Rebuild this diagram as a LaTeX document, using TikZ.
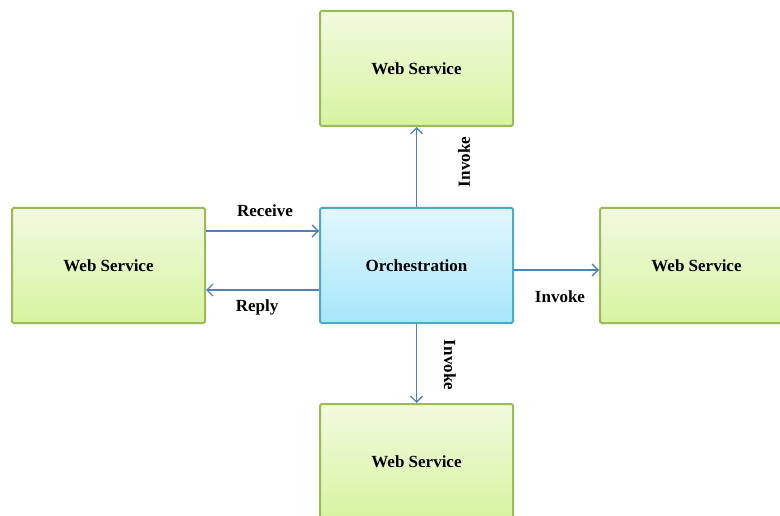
\documentclass[tikz,border=0pt]{standalone}
\usepackage{fontspec}
\setmainfont{Liberation Serif}
\usetikzlibrary{arrows.meta}
\definecolor{gborder}{HTML}{9BBB59}
\definecolor{gtop}{HTML}{F2FADF}
\definecolor{gbot}{HTML}{D6F4A0}
\definecolor{bborder}{HTML}{4BACC6}
\definecolor{btop}{HTML}{E3F7FD}
\definecolor{bbot}{HTML}{A6E6FA}
\definecolor{arr}{HTML}{4F81BD}
\tikzset{
  ws/.style={draw=gborder, line width=2pt, rounded corners=1.5pt, top color=gtop, bottom color=gbot,
    minimum width=193pt, minimum height=115pt, inner sep=0pt,
    font=\fontsize{17}{20}\selectfont\bfseries},
  orch/.style={draw=bborder, line width=2pt, rounded corners=1.5pt, top color=btop, bottom color=bbot,
    minimum width=193pt, minimum height=115pt, inner sep=0pt,
    font=\fontsize{17}{20}\selectfont\bfseries},
  conn/.style={draw=arr, line width=1.6pt, -{Straight Barb[length=6pt,width=12pt,line width=1.4pt]}},
  lbl/.style={font=\fontsize{17}{20}\selectfont\bfseries, inner sep=0pt}
}
\begin{document}
\begin{tikzpicture}[x=1pt,y=-1pt]
\useasboundingbox (0,0) rectangle (780,516);
\node[ws] (top) at (416.5,68.5) {Web Service};
\node[ws] (left) at (108.5,265.5) {Web Service};
\node[orch] (orch) at (416.5,265.5) {Orchestration};
\node[ws] (right) at (696.5,265.5) {Web Service};
\node[ws] (bot) at (416.5,461.5) {Web Service};
\draw[conn] (orch.north) -- (top.south);
\draw[conn] (orch.south) -- (bot.north);
\draw[conn] (left.east |- 0,231) -- (orch.west |- 0,231);
\draw[conn] (orch.west |- 0,290) -- (left.east |- 0,290);
\draw[conn] (orch.east |- 0,270) -- (right.west |- 0,270);
\node[lbl] (lrecv) at (265,211) {Receive};
\node[lbl] (lrep) at (257,307) {Reply};
\node[lbl] (linvr) at (560,297) {Invoke};
\node[lbl, rotate=90] (linvt) at (464,162) {Invoke};
\node[lbl, rotate=-90] (linvb) at (450,365) {Invoke};
\end{tikzpicture}
\end{document}
